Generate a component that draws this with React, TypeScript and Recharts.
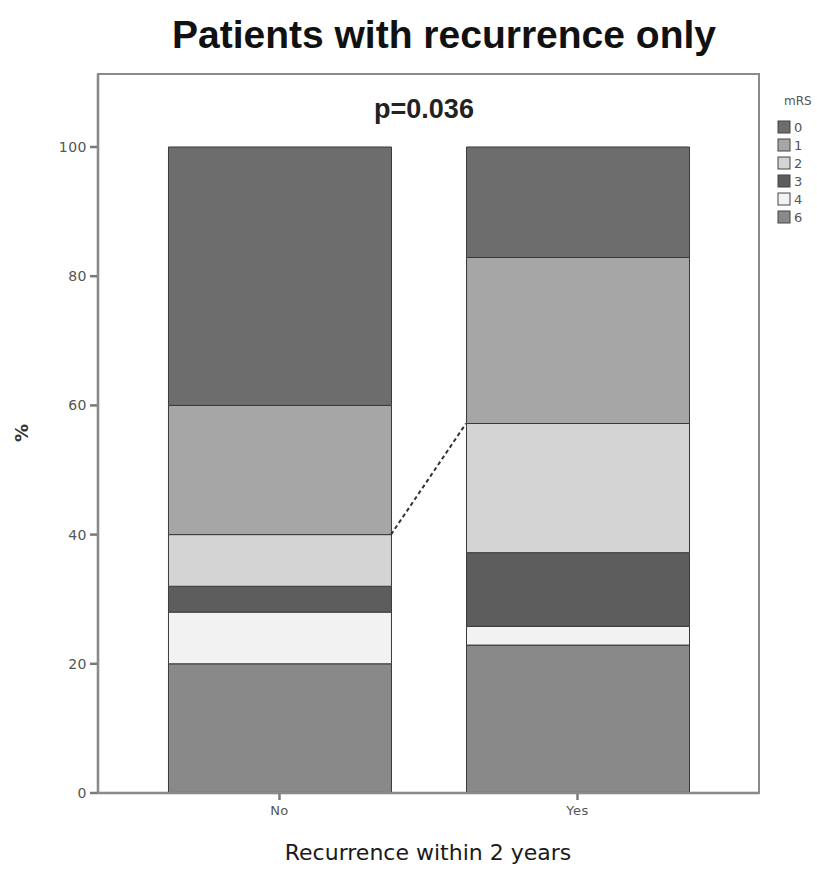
import React from "react";
import { ComposedChart, Bar, XAxis, YAxis, ReferenceLine } from "recharts";

const categories = ["No", "Yes"];
const mrsLevels = ["0", "1", "2", "3", "4", "6"];
const mrs0 = [40, 17.1];
const mrs1 = [20, 25.7];
const mrs2 = [8, 20.0];
const mrs3 = [4, 11.4];
const mrs4 = [8, 2.9];
const mrs6 = [20, 22.9];
const yTicks = [0, 20, 40, 60, 80, 100];
const title = "Patients with recurrence only";
const pText = "p=0.036";
const xTitle = "Recurrence within 2 years";
const yTitle = "%";
const legendTitle = "mRS";

const colors: Record<string, string> = {
  "0": "#6d6d6d",
  "1": "#a6a6a6",
  "2": "#d4d4d4",
  "3": "#5d5d5d",
  "4": "#f2f2f2",
  "6": "#898989",
};

const seriesValues: Record<string, number[]> = {
  "0": mrs0,
  "1": mrs1,
  "2": mrs2,
  "3": mrs3,
  "4": mrs4,
  "6": mrs6,
};

const data = categories.map((c, i) => {
  const row: any = { idx: i, name: c };
  mrsLevels.forEach((k) => (row["m" + k] = seriesValues[k][i]));
  return row;
});

// stacking order bottom -> top
const stackOrder = ["6", "4", "3", "2", "1", "0"];

const W = 809;
const H = 861;
const M = { top: 66, right: 58, bottom: 42, left: 30 };
const Y_AXIS_W = 60;
const X_AXIS_H = 34;
const BAR_PX = 223;
const X_DOMAIN: [number, number] = [-0.609, 1.609];
const plotLeft = M.left + Y_AXIS_W;
const plotRight = W - M.right;
const plotTop = M.top;
const plotBottom = H - M.bottom - X_AXIS_H;
const unitPx = (plotRight - plotLeft) / (X_DOMAIN[1] - X_DOMAIN[0]);
const halfBar = BAR_PX / 2 / unitPx;

const topOf2 = (i: number) =>
  ["6", "4", "3", "2"].reduce((s, k) => s + seriesValues[k][i], 0);

const font = "'DejaVu Sans', sans-serif";

export default function App() {
  return (
    <div
      style={{
        position: "fixed",
        left: 8,
        top: 8,
        width: W,
        height: H,
        background: "#fff",
      }}
    >
      <ComposedChart width={W} height={H} data={data} margin={M}>
        <XAxis
          type="number"
          dataKey="idx"
          domain={X_DOMAIN}
          ticks={[0, 1]}
          tickFormatter={(v: number) => categories[v] ?? ""}
          height={X_AXIS_H}
          stroke="#7a7a7a"
          strokeWidth={2.5}
          tickSize={7}
          tickMargin={6}
          tick={{ fill: "#555", fontSize: 13, fontFamily: font, letterSpacing: 0.5 }}
          allowDataOverflow
        />
        <YAxis
          type="number"
          domain={[0, 111.3]}
          ticks={yTicks}
          width={Y_AXIS_W}
          stroke="#7a7a7a"
          strokeWidth={2.5}
          tickSize={8}
          tickMargin={3}
          tick={{ fill: "#555", fontSize: 14, fontFamily: font, letterSpacing: 0.5 }}
          allowDataOverflow
        />
        {stackOrder.map((k) => (
          <Bar
            key={k}
            dataKey={"m" + k}
            stackId="a"
            fill={colors[k]}
            stroke="#3a3a3a"
            strokeWidth={1}
            barSize={BAR_PX}
            isAnimationActive={false}
          />
        ))}
        <ReferenceLine
          segment={[
            { x: 0 + halfBar, y: topOf2(0) },
            { x: 1 - halfBar, y: topOf2(1) },
          ]}
          stroke="#333"
          strokeWidth={2}
          strokeDasharray="4 3"
          ifOverflow="visible"
        />
      </ComposedChart>
      <svg
        width={W}
        height={H}
        style={{ position: "absolute", left: 0, top: 0, pointerEvents: "none" }}
      >
        <rect
          x={plotLeft}
          y={plotTop}
          width={plotRight - plotLeft}
          height={plotBottom - plotTop}
          fill="none"
          stroke="#8a8a8a"
          strokeWidth={2}
        />
        <text
          x={436}
          y={40}
          textAnchor="middle"
          fontFamily="'Liberation Sans', Arial, sans-serif"
          fontWeight="bold"
          fontSize={39}
          fill="#111"
        >
          {title}
        </text>
        <text
          x={416}
          y={110}
          textAnchor="middle"
          fontFamily="'Liberation Sans', Arial, sans-serif"
          fontWeight="bold"
          fontSize={27}
          fill="#222"
        >
          {pText}
        </text>
        <text
          x={420}
          y={852}
          textAnchor="middle"
          fontFamily={font}
          fontSize={22}
          fill="#1a1a1a"
        >
          {xTitle}
        </text>
        <text
          x={20}
          y={425}
          textAnchor="middle"
          fontFamily={font}
          fontWeight="bold"
          fontSize={18}
          fill="#333"
          transform="rotate(-90 20 425)"
        >
          {yTitle}
        </text>
        <text x={776} y={97} fontFamily={font} fontSize={12} fill="#555">
          {legendTitle}
        </text>
        {mrsLevels.map((k, i) => (
          <g key={k}>
            <rect
              x={770}
              y={113 + i * 18}
              width={12}
              height={12}
              fill={colors[k]}
              stroke="#444"
              strokeWidth={1}
            />
            <text x={786} y={124 + i * 18} fontFamily={font} fontSize={13} fill="#555">
              {k}
            </text>
          </g>
        ))}
      </svg>
    </div>
  );
}
